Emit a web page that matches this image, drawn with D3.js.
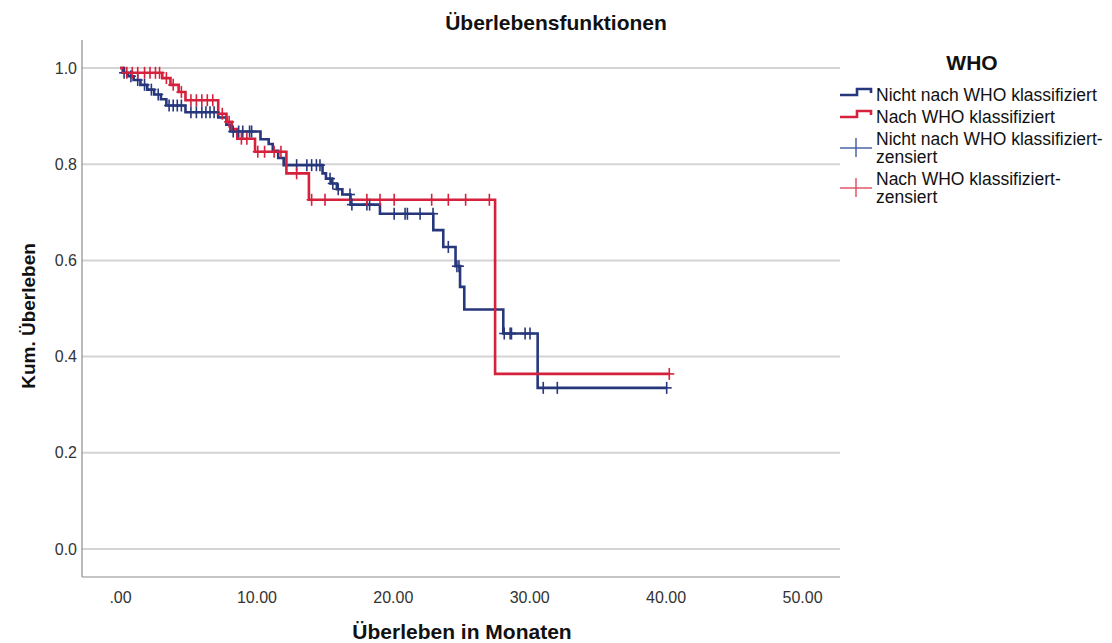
<!DOCTYPE html>
<html><head><meta charset="utf-8">
<script src="https://cdn.jsdelivr.net/npm/d3@7"></script>
<style>
html,body{margin:0;padding:0;background:#fff;}
text{font-family:"Liberation Sans",Arial,sans-serif;}
</style></head>
<body>
<svg id="chart" width="1112" height="643"></svg>
<script>
// Kaplan-Meier estimates by WHO classification: [months, survival after the event]
const seriesNames = ["Nicht nach WHO klassifiziert", "Nach WHO klassifiziert"];
const censorNames = ["Nicht nach WHO klassifiziert-\nzensiert", "Nach WHO klassifiziert-\nzensiert"];

const nichtWhoSteps = [
  [0, 1.0], [0.2, 0.990], [0.6, 0.983], [1.0, 0.975], [1.5, 0.965], [2.0, 0.955],
  [2.5, 0.945], [3.0, 0.935], [3.4, 0.922], [4.8, 0.908], [7.2, 0.897], [7.8, 0.882],
  [8.1, 0.868], [10.3, 0.852], [10.9, 0.842], [11.2, 0.828], [11.6, 0.813], [12.0, 0.798],
  [14.85, 0.781], [15.1, 0.770], [15.5, 0.760], [15.9, 0.748], [16.3, 0.737], [16.9, 0.716],
  [19.06, 0.697], [22.97, 0.663], [23.7, 0.628], [24.6, 0.588], [24.93, 0.545],
  [25.24, 0.498], [28.1, 0.448], [30.62, 0.335]
];
const nichtWhoCensored = [
  0.3, 0.8, 1.3, 1.8, 2.3, 2.8, 3.6, 3.9, 4.2, 4.5, 5.2, 5.6, 6.0, 6.3, 6.6, 6.9,
  8.3, 8.7, 9.0, 9.5, 9.65, 12.95, 13.7, 14.05, 14.4, 14.66, 15.4, 15.6, 16.0,
  16.86, 17.0, 18.1, 18.3, 20.1, 20.9, 21.07, 22.0, 22.95, 24.07, 24.7, 24.85,
  28.17, 28.6, 28.7, 29.7, 30.06, 31.03, 32.06, 40.08
];
const nachWhoSteps = [
  [0, 1.0], [0.3, 0.990], [3.1, 0.979], [3.7, 0.965], [4.3, 0.950], [4.8, 0.933],
  [7.2, 0.905], [7.8, 0.888], [8.2, 0.873], [8.6, 0.853], [9.9, 0.826], [12.2, 0.781],
  [13.85, 0.726], [27.5, 0.364]
];
const nachWhoCensored = [
  0.5, 0.9, 1.3, 1.8, 2.2, 2.6, 2.9, 3.4, 3.9, 4.5, 5.2, 5.6, 6.0, 6.4, 6.8, 7.5,
  8.0, 8.9, 9.3, 10.1, 10.6, 11.3, 11.8, 12.95, 14.05, 15.03, 18.1, 19.06, 20.1,
  22.85, 24.07, 25.34, 27.08, 40.27
];
const xTicks = [0, 10, 20, 30, 40, 50];
const yTicks = [0, 0.2, 0.4, 0.6, 0.8, 1.0];
const colors = ["#27377c", "#d5213c"];
const censorColors = ["#3d5aa0", "#e04a5e"];

const svg = d3.select("#chart");
const x = d3.scaleLinear().domain([0, 50]).range([120, 802]);
const y = d3.scaleLinear().domain([0, 1]).range([549, 68]);
const plotLeft = 82, plotRight = 840, plotTop = 40, plotBottom = 577;
const FONT = "Liberation Sans, Arial, sans-serif";

// gridlines
svg.append("g").selectAll("line").data(yTicks).join("line")
  .attr("x1", plotLeft).attr("x2", plotRight)
  .attr("y1", d => y(d)).attr("y2", d => y(d))
  .attr("stroke", "#d4d4d4").attr("stroke-width", 2);

// axes
const yAxis = d3.axisLeft(y).tickValues(yTicks).tickSize(0).tickPadding(5)
  .tickFormat(d3.format(".1f"));
svg.append("g").attr("transform", `translate(${plotLeft},0)`).call(yAxis)
  .call(g => g.select(".domain").remove())
  .selectAll("text").attr("font-size", 16).attr("fill", "#333").attr("font-family", FONT);
const xAxis = d3.axisBottom(x).tickValues(xTicks).tickSize(0).tickPadding(15)
  .tickFormat(d => d === 0 ? ".00" : d3.format(".2f")(d));
svg.append("g").attr("transform", `translate(0,${plotBottom})`).call(xAxis)
  .call(g => g.select(".domain").remove())
  .selectAll("text").attr("font-size", 16).attr("fill", "#333").attr("font-family", FONT);

svg.append("line").attr("x1", plotLeft).attr("x2", plotLeft)
  .attr("y1", plotTop).attr("y2", plotBottom).attr("stroke", "#8c8c8c").attr("stroke-width", 1.2);
svg.append("line").attr("x1", plotLeft).attr("x2", plotRight)
  .attr("y1", plotBottom).attr("y2", plotBottom).attr("stroke", "#8c8c8c").attr("stroke-width", 1.2);

// survival curves
function survivalAt(steps, t) {
  let s = steps[0][1];
  for (const [tt, v] of steps) { if (tt <= t) s = v; else break; }
  return s;
}
const stepLine = d3.line().x(d => x(d[0])).y(d => y(d[1])).curve(d3.curveStepAfter);
const groups = [
  {steps: nichtWhoSteps, cens: nichtWhoCensored},
  {steps: nachWhoSteps, cens: nachWhoCensored}
];
groups.forEach((g, i) => {
  const lastT = d3.max(g.cens);
  const pts = g.steps.concat([[lastT, g.steps[g.steps.length - 1][1]]]);
  svg.append("path").datum(pts).attr("d", stepLine)
    .attr("fill", "none").attr("stroke", colors[i]).attr("stroke-width", 2.6);
});
groups.forEach((g, i) => {
  const cg = svg.append("g").attr("stroke", colors[i]).attr("stroke-width", 1.6);
  g.cens.forEach(t => {
    const cx = x(t), cy = y(survivalAt(g.steps, t));
    cg.append("line").attr("x1", cx).attr("x2", cx).attr("y1", cy - 6).attr("y2", cy + 6);
    cg.append("line").attr("x1", cx - 5).attr("x2", cx + 5).attr("y1", cy).attr("y2", cy);
  });
});

// titles
svg.append("text").attr("x", 556).attr("y", 30).attr("text-anchor", "middle")
  .attr("font-size", 21).attr("font-weight", "bold").attr("fill", "#111").text("Überlebensfunktionen");
svg.append("text").attr("x", 462).attr("y", 639).attr("text-anchor", "middle")
  .attr("font-size", 21).attr("font-weight", "bold").attr("fill", "#111").text("Überleben in Monaten");
svg.append("text").attr("transform", "translate(35,316) rotate(-90)").attr("text-anchor", "middle")
  .attr("font-size", 19).attr("font-weight", "bold").attr("fill", "#111").text("Kum. Überleben");

// legend
const lg = svg.append("g");
lg.append("text").attr("x", 972).attr("y", 70).attr("text-anchor", "middle")
  .attr("font-size", 21).attr("font-weight", "bold").attr("fill", "#111").text("WHO");
const stepIconRows = [95, 117];
stepIconRows.forEach((yy, i) => {
  lg.append("path").attr("d", `M840,${yy} H857 V${yy - 6} H871 V${yy - 2}`)
    .attr("fill", "none").attr("stroke", colors[i]).attr("stroke-width", 2.6);
  lg.append("text").attr("x", 876).attr("y", yy + 6).attr("font-size", 17.5).attr("fill", "#111")
    .text(seriesNames[i]);
});
const censIconRows = [145, 185];
censIconRows.forEach((yy, i) => {
  lg.append("line").attr("x1", 840).attr("x2", 872).attr("y1", yy + 3).attr("y2", yy + 3)
    .attr("stroke", censorColors[i]).attr("stroke-width", 1.4);
  lg.append("line").attr("x1", 856).attr("x2", 856).attr("y1", yy - 7).attr("y2", yy + 12)
    .attr("stroke", censorColors[i]).attr("stroke-width", 1.4);
  const lines = censorNames[i].split("\n");
  const t = lg.append("text").attr("x", 876).attr("y", yy).attr("font-size", 17.5).attr("fill", "#111");
  lines.forEach((ln, k) => t.append("tspan").attr("x", 876).attr("dy", k === 0 ? 0 : 18).text(ln));
});
</script>
</body></html>
